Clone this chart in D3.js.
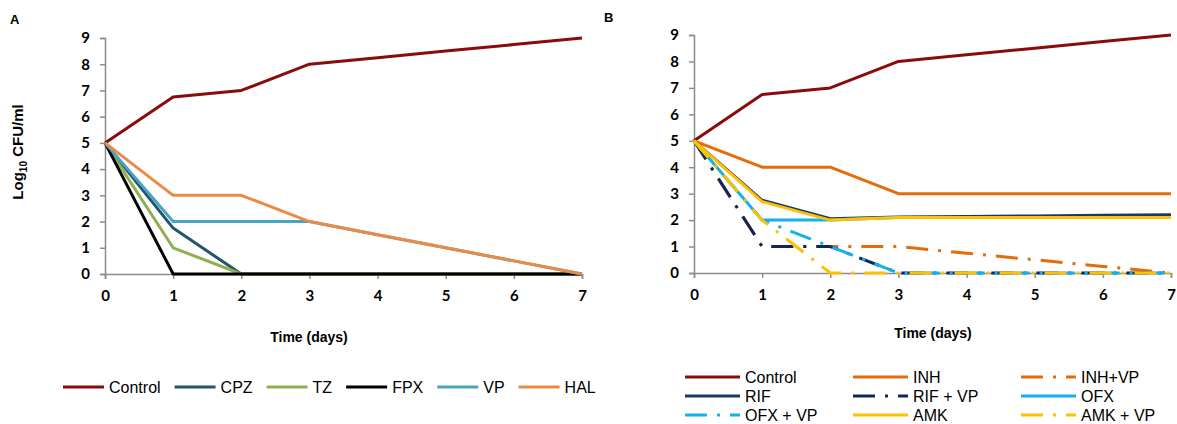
<!DOCTYPE html>
<html>
<head>
<meta charset="utf-8">
<script src="https://cdn.jsdelivr.net/npm/d3@7"></script>
<style>
body { margin: 0; background: #fff; }
text { font-family: "Liberation Sans", Arial, sans-serif; }
.tick text { font-family: Lato, "Open Sans", sans-serif; font-weight: bold; font-size: 15px; fill: #000; }
</style>
</head>
<body>
<script>
// days measured
var days = [0, 1, 2, 3, 4, 5, 6, 7];
var xTicks = [0, 1, 2, 3, 4, 5, 6, 7];
var yTicks = [0, 1, 2, 3, 4, 5, 6, 7, 8, 9];

// panel A series
var namesA = ["Control", "CPZ", "TZ", "FPX", "VP", "HAL"];
var colorsA = ["#8b0a0a", "#23566a", "#8fb050", "#000000", "#4aa3c4", "#ea8a45"];
var controlA = [5, 6.75, 7, 8, 8.25, 8.5, 8.75, 9];
var cpzA = [5, 1.75, 0, 0, 0, 0, 0, 0];
var tzA = [5, 1, 0, 0, 0, 0, 0, 0];
var fpxA = [5, 0, 0, 0, 0, 0, 0, 0];
var vpA = [5, 2, 2, 2, 1.5, 1, 0.5, 0];
var halA = [5, 3, 3, 2, 1.5, 1, 0.5, 0];

// panel B series
var namesB = ["Control", "INH", "INH+VP", "RIF", "RIF + VP", "OFX", "OFX + VP", "AMK", "AMK + VP"];
var colorsB = ["#8b0a0a", "#e46c0a", "#e46c0a", "#1b3766", "#10265a", "#12b0ec", "#12b0ec", "#ffc000", "#ffc000"];
var dashedB = [false, false, true, false, true, false, true, false, true];
var controlB = [5, 6.75, 7, 8, 8.25, 8.5, 8.75, 9];
var inhB = [5, 4, 4, 3, 3, 3, 3, 3];
var inhVpB = [5, 1, 1, 1, 0.75, 0.5, 0.25, 0];
var rifB = [5, 2.75, 2.05, 2.12, 2.14, 2.16, 2.18, 2.2];
var rifVpB = [5, 1, 1, 0, 0, 0, 0, 0];
var ofxB = [5, 2, 2, 2.1, 2.1, 2.1, 2.1, 2.1];
var ofxVpB = [5, 2, 1, 0, 0, 0, 0, 0];
var amkB = [5, 2.7, 2, 2.1, 2.1, 2.1, 2.1, 2.1];
var amkVpB = [5, 2, 0, 0, 0, 0, 0, 0];

var seriesA = [controlA, cpzA, tzA, fpxA, vpA, halA];
var seriesB = [controlB, inhB, inhVpB, rifB, rifVpB, ofxB, ofxVpB, amkB, amkVpB];
var dashPattern = "22,10,3,10";

var svg = d3.select("body").append("svg")
  .attr("width", 1177).attr("height", 424);

function drawPanel(x0, x1, y0, y1, series, colors, dashed) {
  var x = d3.scaleLinear().domain([0, 7]).range([x0, x1]);
  var y = d3.scaleLinear().domain([0, 9]).range([y0, y1]);

  var gx = svg.append("g").attr("transform", "translate(0," + y0 + ")")
    .call(d3.axisBottom(x).tickValues(xTicks).tickSize(5).tickPadding(11).tickFormat(d3.format("d")));
  var gy = svg.append("g").attr("transform", "translate(" + x0 + ",0)")
    .call(d3.axisLeft(y).tickValues(yTicks).tickSize(5).tickPadding(10).tickFormat(d3.format("d")));
  [gx, gy].forEach(function(g) {
    g.select(".domain").attr("stroke", "#8c8c8c").attr("stroke-width", 1.5);
    g.selectAll(".tick line").attr("stroke", "#8c8c8c").attr("stroke-width", 1.5);
  });

  var line = d3.line().x(function(d, i) { return x(days[i]); }).y(function(d) { return y(d); });
  svg.append("g").selectAll("path")
    .data(series)
    .enter()
    .append("path")
    .attr("d", line)
    .attr("fill", "none")
    .attr("stroke", function(d, i) { return colors[i]; })
    .attr("stroke-width", 3)
    .attr("stroke-linejoin", "round")
    .attr("stroke-dasharray", function(d, i) { return dashed && dashed[i] ? dashPattern : null; });
}

drawPanel(105, 582, 274, 38, seriesA, colorsA, null);
drawPanel(694, 1171, 273, 35, seriesB, colorsB, dashedB);

// panel letters
svg.append("text").attr("x", 10).attr("y", 24).text("A")
  .attr("font-weight", "bold").attr("font-size", 13);
svg.append("text").attr("x", 604).attr("y", 22).text("B")
  .attr("font-weight", "bold").attr("font-size", 13);

// y label
var yl = svg.append("text")
  .attr("transform", "translate(23,152) rotate(-90)")
  .attr("text-anchor", "middle")
  .attr("font-weight", "bold").attr("font-size", 15);
yl.append("tspan").text("Log");
yl.append("tspan").text("10").attr("font-size", 10).attr("dy", 4);
yl.append("tspan").text(" CFU/ml").attr("dy", -4);

// x labels
svg.append("text").attr("x", 309).attr("y", 342).attr("text-anchor", "middle")
  .text("Time (days)").attr("font-family", "Lato, sans-serif")
  .attr("font-weight", "bold").attr("font-size", 14);
svg.append("text").attr("x", 933).attr("y", 338).attr("text-anchor", "middle")
  .text("Time (days)").attr("font-family", "Lato, sans-serif")
  .attr("font-weight", "bold").attr("font-size", 14);

// legend A, laid out by text width
var lx = 63;
namesA.forEach(function(name, i) {
  svg.append("line").attr("x1", lx).attr("x2", lx + 41).attr("y1", 387).attr("y2", 387)
    .attr("stroke", colorsA[i]).attr("stroke-width", 3);
  var t = svg.append("text").attr("x", lx + 46).attr("y", 393).text(name).attr("font-size", 16);
  lx += 46 + t.node().getComputedTextLength() + 14;
});

// legend B, 3 columns
namesB.forEach(function(name, i) {
  var col = i % 3, row = Math.floor(i / 3);
  var gx = 685 + col * 168, gy = 377 + row * 19;
  svg.append("line").attr("x1", gx).attr("x2", gx + 55).attr("y1", gy).attr("y2", gy)
    .attr("stroke", colorsB[i]).attr("stroke-width", 3)
    .attr("stroke-dasharray", dashedB[i] ? dashPattern : null);
  svg.append("text").attr("x", gx + 60).attr("y", gy + 6).text(name).attr("font-size", 16);
});
</script>
</body>
</html>
